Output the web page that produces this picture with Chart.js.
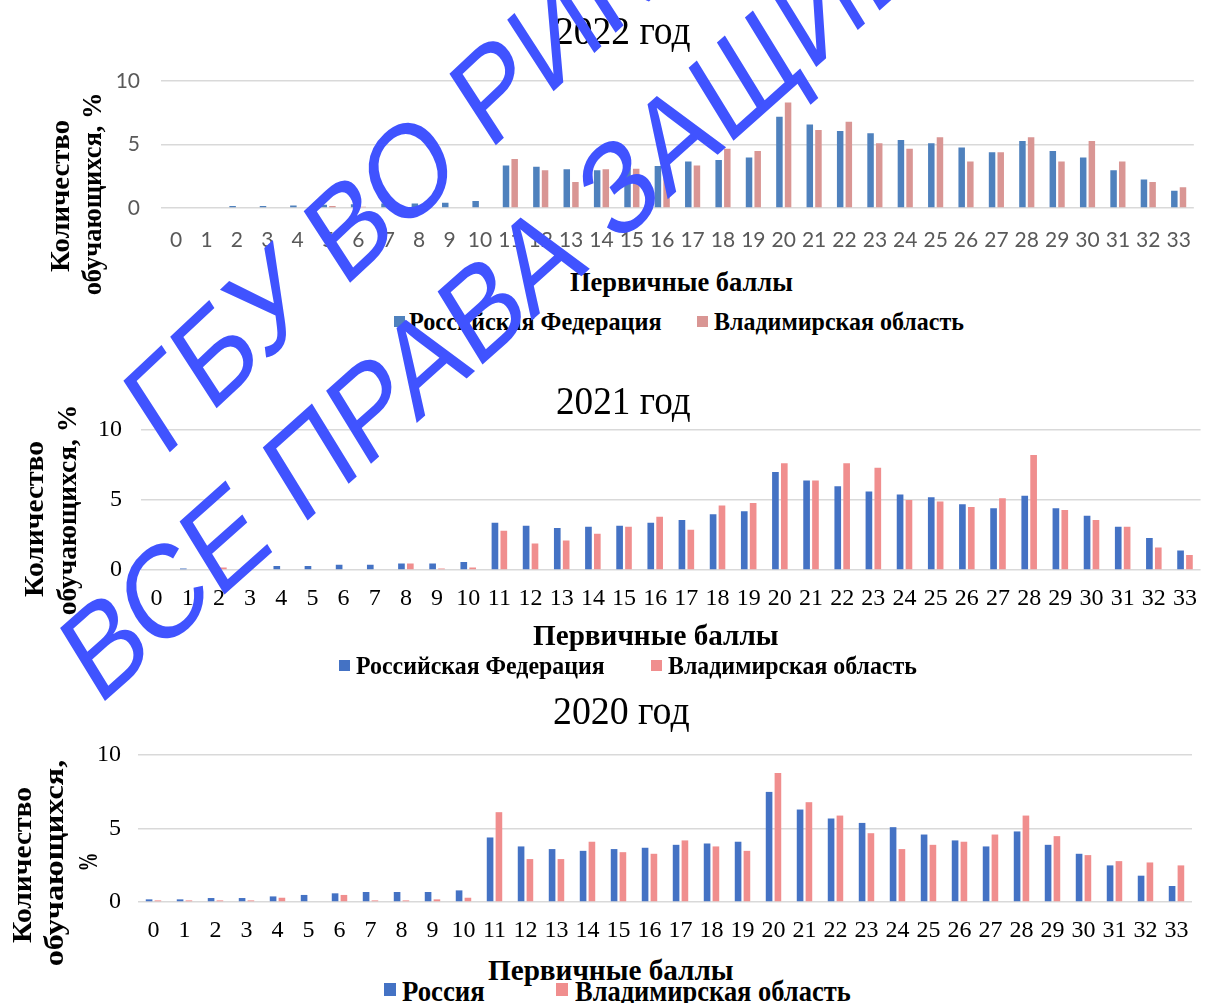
<!DOCTYPE html>
<html>
<head>
<meta charset="utf-8">
<script src="https://cdn.jsdelivr.net/npm/chart.js@4.4.0/dist/chart.umd.min.js"></script>
<style>
  html, body { margin: 0; padding: 0; background: #fff; }
  body { width: 1211px; height: 1003px; position: relative; overflow: hidden; }
  canvas { position: absolute; left: 0; }
  .t { position: absolute; white-space: nowrap; line-height: 1; color: #000; }
  .sq { position: absolute; }
  #wm { position: absolute; left: 0; top: 0; width: 1460px; height: 1003px;
        transform-origin: 0 0; transform: scaleX(0.83); pointer-events: none; }
  #wm span { position: absolute; font-family: "Liberation Sans"; font-size: 132px; color: #4053ff;
             line-height: 1; white-space: nowrap; }
</style>
</head>
<body>
<canvas id="c2022" width="1211" height="217" style="top:41px"></canvas>
<canvas id="c2021" width="1211" height="230" style="top:390px"></canvas>
<canvas id="c2020" width="1211" height="237" style="top:715px"></canvas>
<div id="wm">
  <span style="left:507px;top:159px;transform:translate(-50%,-50%) rotate(-38deg)">ГБУ ВО РИКО</span>
  <span style="left:728px;top:200px;transform:translate(-50%,-50%) rotate(-36.5deg)">ВСЕ ПРАВА ЗАЩИЩЕНЫ</span>
</div>
<script>
// Распределение первичных баллов: РФ и Владимирская область, 2020-2022

const categories = [0, 1, 2, 3, 4, 5, 6, 7, 8, 9, 10, 11, 12, 13, 14, 15, 16,
  17, 18, 19, 20, 21, 22, 23, 24, 25, 26, 27, 28, 29, 30, 31, 32, 33];
const yTicks = [0, 5, 10];

const rf2022 = [0.05, 0.05, 0.15, 0.15, 0.2, 0.25, 0.3, 0.35, 0.35, 0.42, 0.55, 3.35, 3.25, 3.05, 2.97, 3.18, 3.3,
  3.66, 3.77, 3.98, 7.19, 6.58, 6.07, 5.89, 5.36, 5.09, 4.77, 4.38, 5.28, 4.48, 3.98, 2.97, 2.25, 1.35];
const vlad2022 = [0, 0, 0, 0.05, 0.05, 0.15, 0.1, 0, 0, 0.05, 0.05, 3.85, 2.97, 2.05, 3.05, 3.1, 3.3,
  3.35, 4.67, 4.48, 8.3, 6.15, 6.79, 5.09, 4.67, 5.57, 3.66, 4.38, 5.57, 3.66, 5.28, 3.66, 2.04, 1.64];

const rf2021 = [0, 0.1, 0.15, 0.19, 0.28, 0.28, 0.38, 0.38, 0.47, 0.47, 0.57, 3.37, 3.16, 3.0, 3.09, 3.16, 3.37,
  3.58, 3.99, 4.2, 7.0, 6.39, 5.99, 5.61, 5.4, 5.19, 4.69, 4.41, 5.31, 4.41, 3.87, 3.09, 2.29, 1.39];
const vlad2021 = [0, 0, 0.17, 0, 0, 0, 0, 0, 0.47, 0.1, 0.17, 2.81, 1.89, 2.1, 2.59, 3.09, 3.8,
  2.88, 4.6, 4.79, 7.62, 6.39, 7.62, 7.31, 5.0, 4.9, 4.5, 5.12, 8.21, 4.29, 3.58, 3.09, 1.6, 1.08];

const ru2020 = [0.18, 0.18, 0.27, 0.27, 0.38, 0.48, 0.59, 0.68, 0.68, 0.68, 0.79, 4.39, 3.78, 3.6, 3.48, 3.6, 3.69,
  3.89, 3.98, 4.1, 7.49, 6.29, 5.68, 5.38, 5.09, 4.59, 4.19, 3.78, 4.8, 3.89, 3.28, 2.49, 1.79, 1.09];
const vlad2020 = [0.11, 0.11, 0.11, 0.11, 0.29, 0, 0.48, 0.11, 0.11, 0.18, 0.29, 6.11, 2.92, 2.92, 4.1, 3.39, 3.28,
  4.19, 3.78, 3.48, 8.78, 6.79, 5.88, 4.68, 3.6, 3.89, 4.1, 4.59, 5.88, 4.48, 3.19, 2.78, 2.69, 2.49];

const seriesNames2022 = ["Российская Федерация", "Владимирская область"];
const seriesNames2021 = ["Российская Федерация", "Владимирская область"];
const seriesNames2020 = ["Россия", "Владимирская область"];

const SERIF = '"Liberation Serif", "Times New Roman", serif';

// plot area starts 40px below the canvas top; x axis box is 50px tall
function makeChart(id, a, b, names, o) {
  return new Chart(document.getElementById(id), {
    type: "bar",
    data: {
      labels: categories,
      datasets: [
        { label: names[0], data: a, backgroundColor: o.colors[0] },
        { label: names[1], data: b, backgroundColor: o.colors[1] }
      ]
    },
    options: {
      responsive: false,
      animation: false,
      layout: { padding: { top: 40, right: o.right, left: 0, bottom: 0 } },
      datasets: { bar: { categoryPercentage: 0.57, barPercentage: 0.75 } },
      plugins: { legend: { display: false }, title: { display: false }, tooltip: { enabled: false } },
      scales: {
        x: {
          grid: { display: false, drawTicks: false },
          border: { display: false },
          ticks: { color: o.tickColor, font: o.tickFont, padding: o.xPad, maxRotation: 0, autoSkip: false },
          afterFit: (s) => { s.height = 50; }
        },
        y: {
          min: 0,
          max: 10,
          afterBuildTicks: (s) => { s.ticks = yTicks.map((v) => ({ value: v })); },
          grid: { color: "#d9d9d9", lineWidth: 1.5, drawTicks: false },
          border: { display: false },
          ticks: { color: o.tickColor, font: o.tickFont, padding: o.yPad },
          afterFit: (s) => { s.width = o.left; }
        }
      }
    }
  });
}

makeChart("c2022", rf2022, vlad2022, seriesNames2022, {
  colors: ["#4f81bd", "#d99694"], right: 11, left: 161, xPad: 20, yPad: 21,
  tickColor: "#595959", tickFont: { family: "Lato", size: 21 }
});
makeChart("c2021", rf2021, vlad2021, seriesNames2021, {
  colors: ["#4472c4", "#f08e8e"], right: 0, left: 141, xPad: 14, yPad: 19,
  tickColor: "#000", tickFont: { family: SERIF, size: 24 }
});
makeChart("c2020", ru2020, vlad2020, seriesNames2020, {
  colors: ["#4472c4", "#f08e8e"], right: 19, left: 138, xPad: 14, yPad: 17,
  tickColor: "#000", tickFont: { family: SERIF, size: 24 }
});

/* ------------- texts: titles, axis titles, legends (fitted widths) ------------- */

function put(text, o) {
  const el = document.createElement("div");
  el.className = "t";
  el.textContent = text;
  el.style.font = (o.bold ? "bold " : "") + o.size + "px " + SERIF;
  document.body.insertBefore(el, document.getElementById("wm"));
  const w = el.offsetWidth, h = el.offsetHeight;
  const k = o.len / w;
  if (o.vertical) {
    el.style.left = (o.x - w / 2) + "px";
    el.style.top = (o.y - h / 2) + "px";
    el.style.transform = "rotate(-90deg) scaleX(" + k + ")";
  } else {
    el.style.left = o.x + "px";
    el.style.top = (o.y - h / 2) + "px";
    el.style.transformOrigin = "0 50%";
    el.style.transform = "scaleX(" + k + ")";
  }
}

function square(x, y, w, h, color) {
  const el = document.createElement("div");
  el.className = "sq";
  el.style.cssText = "left:" + x + "px;top:" + y + "px;width:" + w + "px;height:" + h + "px;background:" + color;
  document.body.insertBefore(el, document.getElementById("wm"));
}

// 2022
put("2022 год", { x: 555, y: 30, len: 136, size: 40 });
put("Количество", { x: 60, y: 196, len: 152, size: 28, bold: true, vertical: true });
put("обучающихся, %", { x: 92, y: 194, len: 203, size: 28, bold: true, vertical: true });
put("Первичные баллы", { x: 570, y: 282, len: 223, size: 28, bold: true });
square(394, 316, 11, 11, "#4f81bd");
put(seriesNames2022[0], { x: 409, y: 322, len: 253, size: 26, bold: true });
square(697, 316, 11, 11, "#d99694");
put(seriesNames2022[1], { x: 714, y: 322, len: 250, size: 26, bold: true });

// 2021
put("2021 год", { x: 556, y: 400, len: 135, size: 40 });
put("Количество", { x: 34, y: 519, len: 156, size: 28, bold: true, vertical: true });
put("обучающихся, %", { x: 67, y: 510, len: 211, size: 28, bold: true, vertical: true });
put("Первичные баллы", { x: 533, y: 635, len: 246, size: 30, bold: true });
square(339, 660, 11, 11, "#4472c4");
put(seriesNames2021[0], { x: 356, y: 666, len: 249, size: 26, bold: true });
square(651, 660, 11, 11, "#f08e8e");
put(seriesNames2021[1], { x: 668, y: 666, len: 249, size: 26, bold: true });

// 2020
put("2020 год", { x: 553, y: 710, len: 137, size: 40 });
put("Количество", { x: 22, y: 865, len: 156, size: 28, bold: true, vertical: true });
put("обучающихся,", { x: 54, y: 863, len: 207, size: 28, bold: true, vertical: true });
put("%", { x: 88, y: 862, len: 19, size: 28, bold: true, vertical: true });
put("Первичные баллы", { x: 488, y: 970, len: 246, size: 30, bold: true });
square(384, 983, 12, 13, "#4472c4");
put(seriesNames2020[0], { x: 402, y: 991, len: 83, size: 30, bold: true });
square(556, 983, 12, 13, "#f08e8e");
put(seriesNames2020[1], { x: 575, y: 991, len: 276, size: 30, bold: true });
</script>
</body>
</html>
